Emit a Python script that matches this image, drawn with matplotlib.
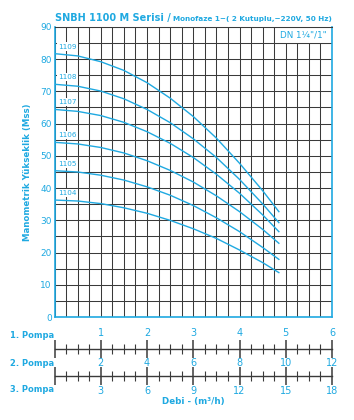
import numpy as np
import matplotlib
matplotlib.use('Agg')
import matplotlib.pyplot as plt
from matplotlib.patches import Rectangle

BLUE = '#1fa9e1'
GRID = '#3a3a3a'

# flow for 1 pump (m3/h) and head curves (Mss)
flow = [0, 0.5, 1, 1.5, 2, 2.5, 3, 3.5, 4, 4.5, 4.85]
models = ['1109', '1108', '1107', '1106', '1105', '1104']
head_1109 = [81.7, 81.0, 79.2, 76.5, 72.7, 67.9, 62.2, 55.5, 47.7, 39.2, 32.7]
head_1108 = [72.2, 71.6, 70.1, 67.7, 64.4, 60.3, 55.3, 49.5, 42.7, 35.1, 29.3]
head_1107 = [64.4, 63.8, 62.5, 60.4, 57.5, 53.9, 49.5, 44.3, 38.4, 31.7, 26.5]
head_1106 = [54.2, 53.7, 52.6, 50.9, 48.5, 45.5, 41.9, 37.6, 32.7, 27.2, 22.9]
head_1105 = [45.4, 45.0, 44.0, 42.5, 40.4, 37.8, 34.6, 30.8, 26.5, 21.6, 17.9]
head_1104 = [36.3, 36.0, 35.2, 33.9, 32.2, 30.0, 27.4, 24.4, 20.8, 16.9, 13.8]
heads = [head_1109, head_1108, head_1107, head_1106, head_1105, head_1104]

pompa_ticks = [1, 2, 3, 4, 5, 6]
pompa1_labels = ['1', '2', '3', '4', '5', '6']
pompa2_labels = ['2', '4', '6', '8', '10', '12']
pompa3_labels = ['3', '6', '9', '12', '15', '18']

fig = plt.figure(figsize=(3.54, 4.2), dpi=100)

# main chart
ax = fig.add_axes([0.154, 0.245, 0.784, 0.691])
ax.set_xlim(0, 6)
ax.set_ylim(0, 90)
ax.set_xticks(np.arange(0, 6.01, 0.25))
ax.set_yticks(np.arange(0, 91, 10))
ax.set_yticks(np.arange(0, 91, 5), minor=True)
ax.grid(True, which='both', color=GRID, lw=0.75)
ax.set_axisbelow(True)
ax.tick_params(axis='x', length=0, labelbottom=False)
ax.tick_params(axis='y', which='both', length=0, labelsize=6.5, labelcolor=BLUE, pad=2)
for s in ['left', 'bottom', 'right']:
    ax.spines[s].set_color(BLUE)
    ax.spines[s].set_linewidth(1.2)
ax.spines['top'].set_color(GRID)
ax.spines['top'].set_linewidth(0.75)

for name, h in zip(models, heads):
    ax.plot(flow, h, color=BLUE, lw=1.0, zorder=3)
    ax.text(0.08, h[0] + 2.2, name, fontsize=5.2, color=BLUE, ha='left', va='center', zorder=4,
            bbox=dict(fc='white', ec='none', pad=0.8))

ax.add_patch(Rectangle((4.75, 85), 1.25, 5, facecolor='white', edgecolor=GRID, lw=0.75, zorder=2))
ax.text(5.375, 87.5, 'DN 1\u00bc"/1"', fontsize=6.3, color=BLUE, ha='center', va='center', zorder=4)

ax.set_ylabel('Manometrik Y\u00fckseklik (Mss)', fontsize=6.2, fontweight='bold', color=BLUE, labelpad=6)

# title
fig.text(0.154, 0.95, 'SNBH 1100 M Serisi /', fontsize=7.0, fontweight='bold', color=BLUE, va='baseline')
fig.text(0.49, 0.95, 'Monofaze 1~( 2 Kutuplu,~220V, 50 Hz)', fontsize=5.2, fontweight='bold',
         color=BLUE, va='baseline')

# flow scales below
def flow_axis(ypos):
    a = fig.add_axes([0.154, ypos, 0.784, 1e-4])
    a.set_xlim(0, 6)
    a.set_ylim(0, 1)
    a.set_yticks([])
    for s in ['left', 'right', 'top']:
        a.spines[s].set_visible(False)
    a.spines['bottom'].set_color(GRID)
    a.spines['bottom'].set_linewidth(1.0)
    a.set_xticks([0] + pompa_ticks)
    a.set_xticks(np.arange(0, 6.01, 0.25), minor=True)
    a.tick_params(axis='x', which='major', direction='inout', length=13, width=1.1, color=GRID)
    a.tick_params(axis='x', which='minor', direction='inout', length=7, width=0.8, color=GRID)
    a.tick_params(axis='x', labelsize=7, labelcolor=BLUE)
    a.patch.set_visible(False)
    return a

p1 = flow_axis(1 - 349 / 420)
p1.set_xticklabels([''] + pompa1_labels)
p1.tick_params(axis='x', labelbottom=False, labeltop=True, top=False, pad=1.5)

p2 = flow_axis(1 - 376 / 420)
p2.set_xticklabels([''] + pompa3_labels)
p2.tick_params(axis='x', pad=0.5)
sec = p2.secondary_xaxis('top')
sec.set_xticks(pompa_ticks)
sec.set_xticklabels(pompa2_labels)
sec.tick_params(axis='x', length=0, labelsize=7, labelcolor=BLUE, pad=6)
sec.spines['top'].set_visible(False)

for yy, txt in [(0.2007, '1. Pompa'), (0.1357, '2. Pompa'), (0.0738, '3. Pompa')]:
    fig.text(0.028, yy, txt, fontsize=6, fontweight='bold', color=BLUE, va='center')
fig.text(0.545, 0.043, 'Debi - (m\u00b3/h)', fontsize=6.3, fontweight='bold', color=BLUE, ha='center', va='center')

fig.savefig('out.png', dpi=100)
